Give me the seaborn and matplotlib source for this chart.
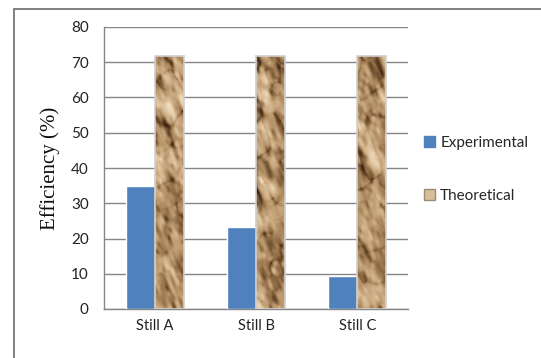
import numpy as np
import pandas as pd
import matplotlib
matplotlib.use("Agg")
import matplotlib.pyplot as plt
from matplotlib.lines import Line2D
from matplotlib.patches import Patch
from matplotlib.colors import LinearSegmentedColormap
import seaborn as sns

# Chart values
stills = ["Still A", "Still B", "Still C"]
experimental = [35.0, 23.3, 9.5]
theoretical = [71.8, 71.8, 71.8]
series_names = ["Experimental", "Theoretical"]
y_ticks = [0, 10, 20, 30, 40, 50, 60, 70, 80]

df = pd.DataFrame({
    "Still": stills * 2,
    "Series": [series_names[0]] * len(stills) + [series_names[1]] * len(stills),
    "Efficiency": experimental + theoretical,
})

sns.set_theme(style="white")
plt.rcParams["font.family"] = ["Lato", "DejaVu Sans"]

fig = plt.figure(figsize=(5.41, 3.58), dpi=100)
ax = fig.add_axes([104 / 541, 1 - 309 / 358, (408 - 104) / 541, (309 - 27) / 358])

blue = "#4F81BD"
tan = "#C9A77E"
sns.barplot(data=df, x="Still", y="Efficiency", hue="Series",
            palette={series_names[0]: blue, series_names[1]: tan},
            width=0.57, ax=ax, legend=False, saturation=1, zorder=3)


def _hash(ix, iy, seed):
    v = np.sin(ix * 127.1 + iy * 311.7 + seed * 74.7) * 43758.5453
    return v - np.floor(v)


def _value_noise(x, y, seed):
    ix, iy = np.floor(x), np.floor(y)
    fx, fy = x - ix, y - iy
    ux, uy = fx * fx * (3 - 2 * fx), fy * fy * (3 - 2 * fy)
    a = _hash(ix, iy, seed)
    b = _hash(ix + 1, iy, seed)
    c = _hash(ix, iy + 1, seed)
    d = _hash(ix + 1, iy + 1, seed)
    return (a * (1 - ux) + b * ux) * (1 - uy) + (c * (1 - ux) + d * ux) * uy


def paper_texture(h, w, seed=0.0):
    """Crumpled-paper look: fractal noise folds with dark creases and emboss shading."""
    yy, xx = np.mgrid[0:h, 0:w].astype(float)
    # slant the coordinates so folds lean diagonally
    xs = xx * 0.9 + yy * 0.35
    ys = yy * 0.8 - xx * 0.45
    height = np.zeros((h, w))
    crease = np.zeros((h, w))
    for octave, (scale, amp) in enumerate([(16.0, 1.0), (8.0, 0.55), (4.0, 0.25)]):
        nz = _value_noise(xs / scale, ys / (scale * 1.4), seed + octave * 3.1)
        height += amp * nz
        crease += amp * np.exp(-np.abs(nz - 0.5) * 11)
    gy, gx = np.gradient(height)
    shade = -(gx * 0.8 + gy * 0.6)
    shade = shade / (shade.std() + 1e-9)
    base = (height - height.mean()) / (height.std() + 1e-9)
    cr = crease / crease.max()
    v = 0.54 + 0.12 * shade + 0.08 * base - 0.46 * cr ** 2
    return np.clip(v, 0, 1)


paper_cmap = LinearSegmentedColormap.from_list(
    "paper", ["#3A2411", "#664628", "#926F48", "#B8956A", "#CFB089", "#E2C9A4", "#F0DFC3"])

n = len(stills)
for k, bar in enumerate(ax.patches[n:2 * n]):
    x0, y0 = bar.get_x(), bar.get_y()
    bw, bh = bar.get_width(), bar.get_height()
    tex = paper_texture(256, 30, seed=1.0 + k * 5.3)
    img = ax.imshow(tex, cmap=paper_cmap, vmin=0, vmax=1, extent=[x0, x0 + bw, y0, y0 + bh],
                    aspect="auto", origin="lower", zorder=3, interpolation="bilinear")
    img.set_clip_path(bar)
    bar.set_facecolor("none")
    bar.set_edgecolor("#CFCFCF")
    bar.set_linewidth(1.2)
    bar.set_zorder(4)

ax.set_xlim(-0.5, n - 0.5)
ax.set_ylim(0, 80)
ax.set_yticks(y_ticks)
ax.yaxis.grid(True, color="#868686", linewidth=1.0, zorder=0)
ax.set_axisbelow(True)

# category boundary ticks below the axis, labels centred on categories
ax.set_xticks(np.arange(-0.5, n, 1.0))
ax.set_xticklabels([])
ax.set_xticks(np.arange(n), minor=True)
ax.set_xticklabels(stills, minor=True)
ax.tick_params(axis="x", which="major", length=5, width=1, color="#868686", direction="out")
ax.tick_params(axis="x", which="minor", length=0, pad=7, labelsize=10.5, labelcolor="#222222")
ax.tick_params(axis="y", length=5, width=1, color="#868686", direction="out", labelsize=11,
               labelcolor="#222222", pad=6)
ax.set_xlabel("")
ax.set_ylabel("Efficiency (%)", family=["Liberation Serif", "DejaVu Serif"], fontsize=15,
              labelpad=8, color="#111111")

for side in ["top", "right"]:
    ax.spines[side].set_visible(False)
for side in ["left", "bottom"]:
    ax.spines[side].set_color("#868686")
    ax.spines[side].set_linewidth(1.0)

handles = [Patch(facecolor=blue, edgecolor=blue),
           Patch(facecolor="#D8BE9B", edgecolor="#9C8A78")]
fig.legend(handles, series_names, loc="upper left", bbox_to_anchor=(418 / 541, 1 - 130 / 358),
           frameon=False, fontsize=11, labelspacing=2.55, handlelength=0.7, handleheight=0.7,
           handletextpad=0.35, borderaxespad=0)

# outer chart frame (left and top edges)
fig.add_artist(Line2D([13.5 / 541, 13.5 / 541], [0, 1 - 8.5 / 358], transform=fig.transFigure,
                      color="#808080", linewidth=1.4))
fig.add_artist(Line2D([13.5 / 541, 1], [1 - 8.5 / 358, 1 - 8.5 / 358], transform=fig.transFigure,
                      color="#808080", linewidth=1.4))

fig.savefig("out.png", dpi=100)
